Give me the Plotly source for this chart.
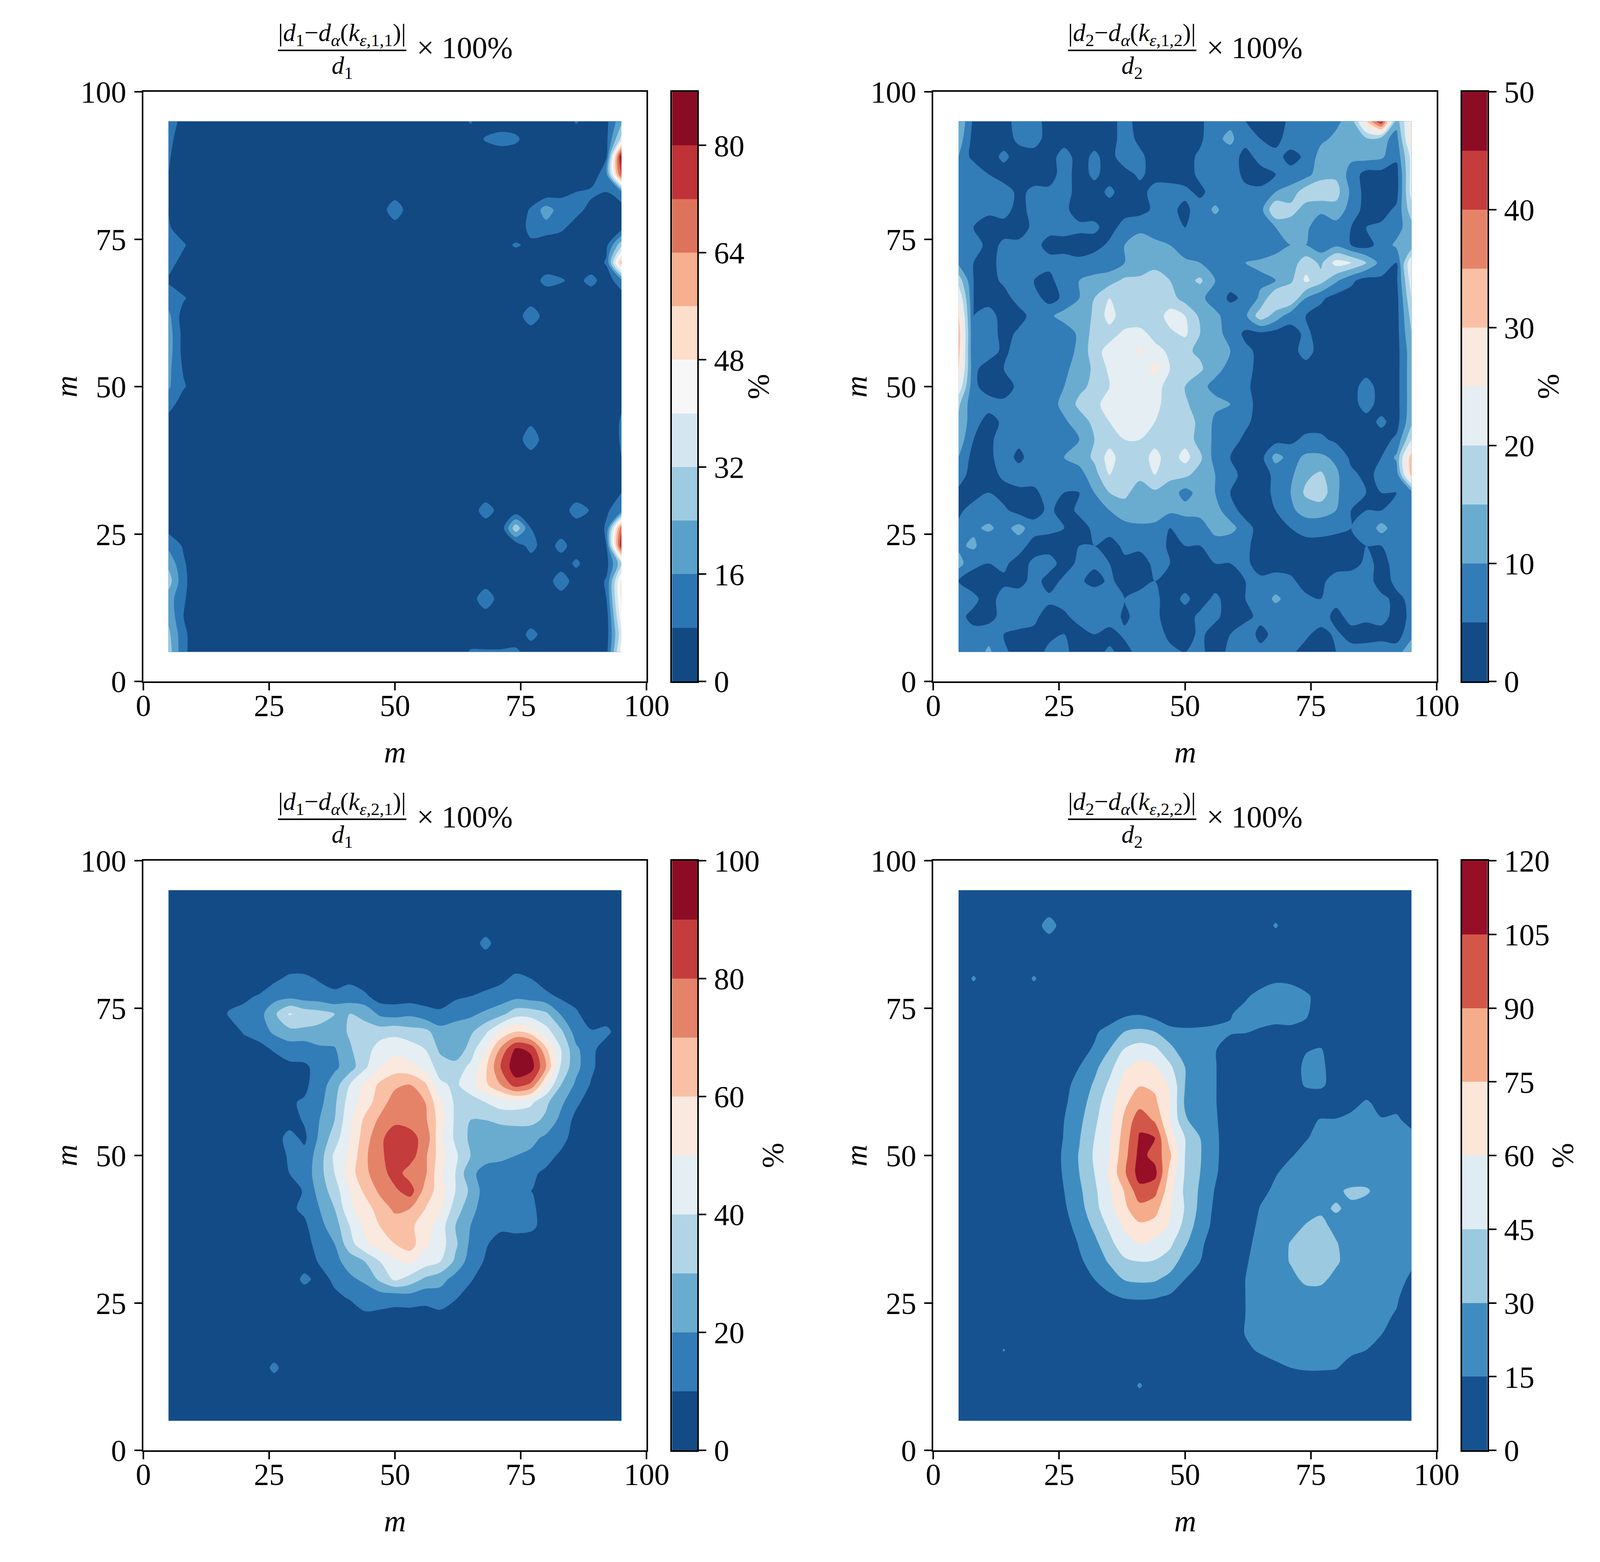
import plotly.graph_objects as go
from plotly.colors import sample_colorscale

X = [5, 8, 11, 14, 17, 20, 23, 26, 29, 32, 35, 38, 41, 44, 47, 50, 53, 56, 59, 62, 65, 68, 71, 74, 77, 80, 83, 86, 89, 92, 95]
Y = [95, 92, 89, 86, 83, 80, 77, 74, 71, 68, 65, 62, 59, 56, 53, 50, 47, 44, 41, 38, 35, 32, 29, 26, 23, 20, 17, 14, 11, 8, 5]

Z11 = [
[14,4,2,2,2,2,2,2,2,2,2,2,2,2,2,2,2,2,2,2,9,2,2,2,2,2,2,9,4,6,22],
[10,4,2,2,2,2,2,2,2,2,2,2,2,2,2,2,2,2,2,2,2,9,12,10,2,2,2,2,2,6,35],
[9,2,2,2,2,2,2,2,2,2,2,2,2,2,2,2,2,2,2,2,2,2,2,2,2,2,2,2,2,7,85],
[8,2,2,2,2,2,2,2,2,2,2,2,2,2,2,2,2,2,2,2,2,2,2,2,2,2,2,2,2,14,75],
[7,2,2,2,2,2,2,2,2,2,2,2,2,2,2,2,2,2,2,2,2,2,2,2,2,2,6,8,10,8,14],
[8,3,2,2,2,2,2,2,2,2,2,2,2,2,2,15,2,2,2,2,2,2,2,2,9,20,12,11,5,2,4],
[9,3,2,2,2,2,2,2,2,2,2,2,2,2,2,3,2,2,2,2,2,2,2,2,11,13,10,4,2,2,4],
[12,9,2,2,2,2,2,2,2,2,2,2,2,2,2,2,2,2,2,2,2,2,5,9,6,2,2,2,2,6,30],
[11,5,2,2,2,2,2,2,2,2,2,2,2,2,2,2,2,2,2,2,2,2,2,2,2,2,2,2,2,9,60],
[7,2,2,2,2,2,2,2,2,2,2,2,2,2,2,2,2,2,2,2,2,2,2,2,3,11,9,5,11,3,14],
[12,9,3,2,2,2,2,2,2,2,2,2,2,2,2,2,2,2,2,2,2,2,2,2,2,2,2,2,2,2,3],
[18,4,2,2,2,2,2,2,2,2,2,2,2,2,2,2,2,2,2,2,2,2,2,2,15,3,2,2,2,2,4],
[20,5,2,2,2,2,2,2,2,2,2,2,2,2,2,2,2,2,2,2,2,2,2,2,2,2,2,2,2,2,4],
[20,5,2,2,2,2,2,2,2,2,2,2,2,2,2,2,2,2,2,2,2,2,2,2,2,2,2,2,2,2,5],
[18,7,2,2,2,2,2,2,2,2,2,2,2,2,2,2,2,2,2,2,2,2,2,2,2,2,2,2,2,2,5],
[17,9,2,2,2,2,2,2,2,2,2,2,2,2,2,2,2,2,2,2,2,2,2,2,2,2,2,2,2,2,6],
[12,3,2,2,2,2,2,2,2,2,2,2,2,2,2,2,2,2,2,2,2,2,2,2,2,2,2,2,2,2,7],
[4,2,2,2,2,2,2,2,2,2,2,2,2,2,2,2,2,2,2,2,2,2,2,2,6,2,2,2,2,2,9],
[2,2,2,2,2,2,2,2,2,2,2,2,2,2,2,2,2,2,2,2,2,2,2,2,15,2,2,2,2,2,9],
[2,2,2,2,2,2,2,2,2,2,2,2,2,2,2,2,2,2,2,2,2,2,2,2,3,2,2,2,2,2,8],
[2,2,2,2,2,2,2,2,2,2,2,2,2,2,2,2,2,2,2,2,2,2,2,2,2,2,2,2,2,2,8],
[2,2,2,2,2,2,2,2,2,2,2,2,2,2,2,2,2,2,2,2,2,2,2,2,2,2,2,2,2,4,8],
[2,2,2,2,2,2,2,2,2,2,2,2,2,2,2,2,2,2,2,2,2,13,4,2,2,2,2,13,7,7,12],
[5,2,2,2,2,2,2,2,2,2,2,2,2,2,2,2,2,2,2,2,2,2,2,30,8,2,2,2,2,9,70],
[14,7,2,2,2,2,2,2,2,2,2,2,2,2,2,2,2,2,2,2,2,2,2,2,12,2,12,2,2,8,80],
[22,9,2,2,2,2,2,2,2,2,2,2,2,2,2,2,2,2,2,2,2,2,2,2,2,2,2,10,2,5,30],
[28,10,2,2,2,2,2,2,2,2,2,2,2,2,2,2,2,2,2,2,2,2,2,2,2,2,15,2,2,9,50],
[20,9,2,2,2,2,2,2,2,2,2,2,2,2,2,2,2,2,2,2,2,16,2,2,2,2,2,2,2,8,50],
[22,8,2,2,2,2,2,2,2,2,2,2,2,2,2,2,2,2,2,2,2,2,2,2,2,2,2,2,2,4,45],
[26,10,2,2,2,2,2,2,2,2,2,2,2,2,2,2,2,2,2,2,2,2,2,2,11,4,2,2,2,4,38],
[28,10,2,2,2,2,2,2,2,2,2,2,2,2,2,2,2,2,2,2,9,9,9,10,3,2,2,2,2,5,45],
]

Z12 = [
[15,4,4,4,6,6,4,3,3,3,3,7,3,3,3,3,4,8,9,5,4,3,6,9,7,9,12,30,45,12,28],
[13,3,3,3,6,7,3,3,3,3,3,7,4,3,3,3,4,9,11,7,5,3,8,6,9,11,13,14,12,8,28],
[10,3,3,6,3,3,3,7,3,6,3,8,6,3,3,3,6,10,8,3,7,7,3,6,12,12,11,12,11,6,22],
[9,10,5,3,3,3,3,7,3,6,3,3,6,3,3,3,6,9,7,4,3,5,7,8,13,14,8,3,3,3,22],
[7,10,7,7,4,6,6,7,3,3,6,3,3,7,7,6,4,7,7,6,6,10,12,18,19,17,9,3,3,3,22],
[7,7,6,7,3,7,6,6,3,3,3,3,3,6,6,4,7,11,7,5,8,20,17,13,11,13,8,3,3,6,18],
[7,5,3,3,3,6,6,7,6,6,3,7,9,8,6,5,7,7,7,8,9,10,12,11,7,8,5,5,6,8,13],
[6,8,3,6,6,6,4,3,3,3,6,10,12,11,10,7,6,6,7,6,6,8,10,10,7,9,5,3,7,11,12],
[9,5,3,7,6,6,6,7,6,8,7,10,12,13,11,11,10,10,9,10,11,12,12,18,14,22,20,15,8,5,25],
[18,5,3,6,7,5,4,7,10,11,13,16,16,18,15,13,16,10,7,8,9,10,14,21,17,11,6,3,4,4,23],
[25,5,3,3,7,7,3,6,10,15,20,17,18,19,17,13,11,8,4,6,11,20,20,10,6,3,3,3,5,3,20],
[30,5,7,3,3,7,9,12,11,16,22,17,16,17,22,20,14,11,8,9,18,13,7,5,3,3,3,3,3,3,17],
[33,5,8,3,6,6,6,7,11,17,18,21,22,18,19,21,15,12,8,4,4,3,3,6,3,3,3,3,3,3,15],
[32,5,7,4,7,9,6,8,11,18,22,20,26,22,19,16,14,12,10,6,4,3,3,7,3,3,3,3,3,3,13],
[30,6,3,5,8,7,5,9,12,16,21,22,21,27,20,16,16,11,9,7,3,3,3,3,3,3,3,3,3,3,13],
[24,6,3,3,6,7,8,10,14,16,20,24,23,21,19,15,11,9,6,6,3,3,3,3,3,3,3,7,3,3,13],
[16,6,7,6,8,6,7,12,16,18,23,24,23,22,17,16,12,11,10,6,4,3,3,3,3,3,3,7,3,3,13],
[14,7,3,6,8,5,6,9,13,16,20,23,24,20,18,17,14,9,6,6,3,3,3,3,3,3,3,3,6,3,14],
[13,5,4,7,6,7,5,7,10,15,18,20,20,18,20,18,13,9,7,4,3,3,4,6,6,4,3,3,3,6,20],
[10,3,4,7,4,7,8,10,12,16,22,17,17,22,17,22,16,8,5,3,3,12,8,11,11,9,4,3,5,11,33],
[7,3,3,6,7,7,8,9,8,13,20,17,16,20,16,16,13,10,6,4,3,6,9,14,16,11,6,4,6,7,32],
[4,3,5,3,4,4,7,5,5,10,15,16,13,14,13,8,12,10,5,3,3,6,10,16,18,11,6,5,5,5,8],
[4,7,7,6,3,3,6,3,6,6,10,13,13,12,11,12,13,12,7,3,3,5,9,12,12,10,5,5,5,6,7],
[6,9,11,8,12,7,6,5,3,6,7,8,9,9,5,6,6,13,12,7,3,3,5,7,7,6,5,6,12,7,7],
[9,11,6,6,7,3,3,3,5,5,3,6,6,8,4,5,5,6,6,6,3,3,3,3,3,3,3,5,5,7,7],
[12,6,5,6,3,6,7,3,6,6,5,4,3,6,5,4,4,5,5,6,3,3,3,3,3,3,3,6,4,6,7],
[5,3,3,4,3,7,3,6,6,3,6,3,3,5,3,3,3,3,3,5,6,7,6,3,4,7,8,7,3,6,7],
[6,6,3,7,8,6,6,7,8,9,7,5,7,6,3,6,3,6,3,5,7,11,8,6,5,7,8,7,6,4,6],
[6,4,3,7,10,6,3,4,7,7,8,4,7,6,3,3,6,6,3,4,6,7,6,6,8,3,7,6,7,3,6],
[5,6,8,5,3,4,4,5,3,5,3,6,6,7,4,3,6,3,5,7,4,6,6,6,3,6,3,3,3,3,8],
[6,7,11,6,3,3,6,6,3,3,6,3,7,10,6,5,6,3,6,5,6,5,6,3,3,5,7,7,8,7,15],
]

Z21 = [
[3,3,3,3,3,3,3,3,3,3,3,3,3,3,3,3,3,3,3,3,3,3,3,3,3,3,3,3,3,3,3],
[3,3,3,3,3,3,3,3,3,3,3,3,3,3,3,3,3,3,3,3,3,3,3,3,3,3,3,3,3,3,3],
[3,3,3,3,3,3,3,3,3,3,3,3,3,3,3,3,3,3,3,3,3,3,3,3,3,3,3,3,3,3,3],
[3,3,3,3,3,3,3,3,3,3,3,3,3,3,3,3,3,3,3,3,3,14,3,3,3,3,3,3,3,3,3],
[3,3,3,3,3,3,3,4,4,4,4,4,4,4,3,3,3,3,3,3,3,3,4,5,5,4,3,3,3,3,3],
[3,3,3,3,3,3,3,8,12,12,9,7,8,4,3,3,3,3,3,3,3,6,8,12,10,4,3,3,3,3,3],
[3,3,3,3,6,8,11,16,17,15,14,12,14,12,5,5,5,5,5,8,10,12,14,17,15,13,8,5,3,3,3],
[3,3,3,3,11,13,16,28,41,36,34,30,30,28,18,16,18,14,12,17,18,22,27,36,36,32,19,12,3,3,3],
[3,3,3,3,5,11,14,22,27,28,27,26,31,33,35,37,34,33,24,24,28,38,52,60,55,44,32,15,11,13,3],
[3,3,3,3,3,5,7,11,14,13,18,19,29,35,45,47,45,40,28,21,35,50,72,92,88,62,40,22,13,4,3],
[3,3,3,3,3,3,4,5,8,9,12,18,25,38,50,55,53,47,35,35,42,58,80,97,95,70,38,23,12,4,3],
[3,3,3,3,3,3,4,5,6,8,15,25,40,52,62,68,70,62,42,38,46,58,70,85,78,50,30,18,9,3,3],
[3,3,3,3,3,3,5,8,9,11,17,28,45,55,65,75,76,70,52,38,35,40,45,45,42,32,22,12,5,3,3],
[3,3,3,3,3,3,4,5,6,11,20,30,48,62,72,78,78,72,55,38,30,30,32,33,33,28,17,7,3,3,3],
[3,3,3,3,3,3,3,6,13,8,22,35,50,65,78,85,82,78,52,38,28,24,24,24,23,18,14,5,3,3,3],
[3,3,3,3,3,3,3,6,11,13,25,42,52,68,78,85,85,72,55,42,30,23,22,20,18,14,8,3,3,3,3],
[3,3,3,3,3,3,3,5,10,14,26,40,55,68,75,85,75,72,52,40,22,17,16,13,12,8,4,3,3,3,3],
[3,3,3,3,3,3,3,3,5,11,24,35,50,62,72,78,85,66,55,40,28,15,12,10,10,5,3,3,3,3,3],
[3,3,3,3,3,3,3,3,8,12,20,30,48,55,65,72,70,60,52,35,24,14,11,12,12,6,3,3,3,3,3],
[3,3,3,3,3,3,3,3,4,8,17,25,40,52,60,65,62,55,45,30,20,12,12,14,13,5,3,3,3,3,3],
[3,3,3,3,3,3,3,3,3,6,14,20,36,48,55,60,65,52,45,32,18,11,6,4,3,3,3,3,3,3,3],
[3,3,3,3,3,3,3,3,3,4,11,17,24,30,40,48,52,45,40,28,15,9,4,3,3,3,3,3,3,3,3],
[3,3,3,3,3,3,3,3,3,13,6,12,18,22,32,42,36,28,24,16,11,5,3,3,3,3,3,3,3,3,3],
[3,3,3,3,3,3,3,3,3,3,3,8,11,14,15,14,16,13,15,11,6,3,3,3,3,3,3,3,3,3,3],
[3,3,3,3,3,3,3,3,3,3,3,3,5,9,8,7,6,7,8,5,3,3,3,3,3,3,3,3,3,3,3],
[3,3,3,3,3,3,3,3,3,3,3,3,3,3,3,3,3,3,3,3,3,3,3,3,3,3,3,3,3,3,3],
[3,3,3,3,3,3,3,3,3,3,3,3,3,3,3,3,3,3,3,3,3,3,3,3,3,3,3,3,3,3,3],
[3,3,3,3,3,3,3,13,3,3,3,3,3,3,3,3,3,3,3,3,3,3,3,3,3,3,3,3,3,3,3],
[3,3,3,3,3,3,3,3,3,3,3,3,3,3,3,3,3,3,3,3,3,3,3,3,3,3,3,3,3,3,3],
[3,3,3,3,3,3,3,3,3,3,3,3,3,3,3,3,3,3,3,3,3,3,3,3,3,3,3,3,3,3,3],
[3,3,3,3,3,3,3,3,3,3,3,3,3,3,3,3,3,3,3,3,3,3,3,3,3,3,3,3,3,3,3],
]

Z22 = [
[4,4,4,4,4,4,4,4,4,4,4,4,4,4,4,4,4,4,4,4,4,4,4,4,4,4,4,4,4,4,4],
[4,4,4,4,4,4,4,4,4,4,4,4,4,4,4,4,4,4,4,4,4,4,4,4,4,4,4,4,4,4,4],
[4,4,4,4,4,4,25,4,4,4,4,4,4,4,4,4,4,4,4,4,4,17,4,4,4,4,4,4,4,4,4],
[4,4,4,4,4,4,4,4,4,4,4,4,4,4,4,4,4,4,4,4,4,4,4,4,4,4,4,4,4,4,4],
[4,4,4,4,4,4,4,4,4,4,4,4,4,4,4,4,4,4,4,4,4,4,4,4,4,4,4,4,4,4,4],
[4,17,4,4,4,17,4,4,4,4,4,4,4,4,4,4,4,4,4,4,8,13,12,6,4,4,4,4,4,4,4],
[4,4,4,4,4,4,4,4,4,4,4,4,4,4,4,4,4,4,4,13,20,21,21,18,8,4,4,4,4,4,4],
[4,4,4,4,4,4,4,4,4,4,4,12,14,9,4,4,6,10,14,20,22,22,20,17,6,4,4,4,4,4,4],
[4,4,4,4,4,4,4,4,4,12,22,30,33,30,20,18,18,18,17,16,13,10,12,10,4,4,4,4,4,4,4],
[4,4,4,4,4,4,4,4,9,17,30,46,52,48,35,20,18,16,6,4,4,4,8,14,16,6,4,4,4,4,4],
[4,4,4,4,4,4,4,6,15,26,40,58,65,62,48,30,20,16,5,4,4,4,8,18,18,8,4,4,4,4,4],
[4,4,4,4,4,4,4,11,20,32,48,66,74,72,58,30,19,16,5,4,4,4,6,17,18,8,4,4,4,4,4],
[4,4,4,4,4,4,4,13,22,38,54,72,84,78,60,28,18,16,5,4,4,4,4,4,4,5,9,17,10,13,10],
[4,4,4,4,4,4,4,15,26,42,56,78,100,88,60,32,22,17,5,4,4,5,8,11,16,16,20,17,16,16,13],
[4,4,4,4,4,4,4,16,29,45,58,82,107,105,68,45,30,18,6,4,4,5,12,14,19,20,20,20,20,20,17],
[4,4,4,4,4,4,4,18,31,47,60,85,110,100,78,45,31,18,6,4,5,8,14,19,20,20,20,20,20,20,20],
[4,4,4,4,4,4,4,17,30,45,62,88,112,110,70,44,30,17,5,4,6,14,20,21,21,22,22,22,22,21,20],
[4,4,4,4,4,4,4,15,27,42,58,76,100,95,65,42,28,14,4,5,11,18,21,24,27,28,32,32,24,21,20],
[4,4,4,4,4,4,4,13,24,40,55,72,85,80,62,44,26,12,4,5,16,20,24,24,28,31,28,24,22,21,20],
[4,4,4,4,4,4,4,10,20,33,48,62,72,70,58,40,22,11,4,9,18,23,25,31,33,27,24,22,22,21,20],
[4,4,4,4,4,4,4,6,16,26,40,55,60,55,48,32,18,7,4,12,19,22,31,38,38,31,24,22,22,21,19],
[4,4,4,4,4,4,4,4,13,20,32,42,45,44,38,23,15,5,4,14,19,23,31,38,38,32,24,22,22,19,16],
[4,4,4,4,4,4,4,4,7,15,21,31,33,32,25,15,7,4,4,15,19,22,26,33,33,26,23,22,20,17,14],
[4,4,4,4,4,4,4,4,4,9,13,16,17,16,13,8,4,4,4,15,19,21,23,24,24,23,22,21,19,17,7],
[4,4,4,4,4,4,4,4,4,4,4,4,4,4,4,4,4,4,4,15,19,21,22,22,22,21,20,19,18,14,9],
[4,4,4,4,4,4,4,4,4,4,4,4,4,4,4,4,4,4,4,16,20,21,21,21,21,20,20,18,16,8,5],
[4,4,4,16,4,4,4,4,4,4,4,4,4,4,4,4,4,4,4,12,17,20,20,20,20,19,18,15,9,4,4],
[4,4,4,4,4,4,4,4,4,4,4,4,4,4,4,4,4,4,4,4,8,12,15,17,17,16,9,4,4,4,4],
[4,4,4,4,4,4,4,4,4,4,4,4,17,4,4,4,4,4,4,4,4,4,4,4,4,4,4,4,4,4,4],
[4,4,4,4,4,4,4,4,4,4,4,4,4,4,4,4,4,4,4,4,4,4,4,4,4,4,4,4,4,4,4],
[4,4,4,4,4,4,4,4,4,4,4,4,4,4,4,4,4,4,4,4,4,4,4,4,4,4,4,4,4,4,4],
]

LEVEL_TOP = [88, 50, 100, 120]
LEVEL_STEP = [8, 5, 10, 15]
CB_TICKS = [[0, 16, 32, 48, 64, 80], [0, 10, 20, 30, 40, 50],
            [0, 20, 40, 60, 80, 100], [0, 15, 30, 45, 60, 75, 90, 105, 120]]
AXIS_TICKS = [0, 25, 50, 75, 100]
NUMERATORS = [("1", "1,1"), ("2", "1,2"), ("1", "2,1"), ("2", "2,2")]

# The browser window is 4096 wide, so the page is laid out at that width while
# positions are kept as fractions of the reference's 4800x4000 frame.
PAGE_W, PAGE_H = 4096, 4000
W, H = 4800, 4000
FONT = "Liberation Serif"
TICK = 78
DX, DY = 2370, 1969
AX_L, AX_T, AX_S = 430, 235, 1510
CB_L, CB_W = 2016, 76
PCT_X = [2274, 4643, 2317, 4686]


def stepped(top, step):
    n = top // step
    cols = sample_colorscale("RdBu_r", [(j + 0.5) / n for j in range(n)])
    stops = []
    for j, c in enumerate(cols):
        stops.append([j / n, c])
        stops.append([(j + 1) / n, c])
    return stops


fig = go.Figure()
layout = dict(
    width=PAGE_W, height=PAGE_H, paper_bgcolor="white", plot_bgcolor="white", showlegend=False,
    margin=dict(l=0, r=0, t=0, b=0, autoexpand=False),
    font=dict(family=FONT, size=TICK, color="black"),
)
annotations, shapes = [], []
base_axis = dict(
    ticks="outside", ticklen=19, tickwidth=4, tickcolor="black",
    showline=True, linewidth=4, linecolor="black", mirror=True,
    showgrid=False, zeroline=False, tickmode="array",
    tickfont=dict(family=FONT, size=TICK, color="black"),
)


def note(text, px, py, size=TICK, angle=0):
    annotations.append(dict(text=text, x=px / W, y=1 - py / H, xref="paper", yref="paper",
                            xanchor="center", yanchor="middle", showarrow=False, textangle=angle,
                            font=dict(family=FONT, size=size, color="black")))


for i, Z in enumerate([Z11, Z12, Z21, Z22]):
    assert all(len(r) == 31 for r in Z) and len(Z) == 31
    col, row = i % 2, i // 2
    ox, oy = col * DX, row * DY
    top, step = LEVEL_TOP[i], LEVEL_STEP[i]
    scale = stepped(top, step)
    main = 2 * i + 1
    bar = 2 * i + 2
    sm = "" if main == 1 else str(main)
    sb = str(bar)
    ydom = [1 - (AX_T + AX_S + oy) / H, 1 - (AX_T + oy) / H]

    fig.add_trace(go.Contour(
        x=X, y=Y, z=Z, xaxis="x" + sm, yaxis="y" + sm,
        autocontour=False,
        contours=dict(start=0, end=top, size=step, coloring="fill", showlines=False),
        line=dict(width=0, smoothing=0.9),
        colorscale=scale, showscale=False, hoverinfo="skip",
    ))
    layout["xaxis" + sm] = dict(base_axis, range=[0, 100], tickvals=AXIS_TICKS, anchor="y" + sm,
                                ticklabelstandoff=-29,
                                domain=[(AX_L + ox) / W, (AX_L + AX_S + ox) / W])
    layout["yaxis" + sm] = dict(base_axis, range=[0, 100], tickvals=AXIS_TICKS, anchor="x" + sm,
                                ticklabelstandoff=5, domain=ydom)

    edges = list(range(0, top + step, step))
    mids = [[e + step / 2] for e in edges[:-1]]
    fig.add_trace(go.Heatmap(
        x=[0, 1], y=edges, z=mids, zmin=0, zmax=top, xaxis="x" + sb, yaxis="y" + sb,
        colorscale=scale, showscale=False, hoverinfo="skip",
    ))
    layout["xaxis" + sb] = dict(range=[0, 1], anchor="y" + sb, showticklabels=False, ticks="",
                                showline=True, linewidth=4, linecolor="black", mirror=True,
                                showgrid=False, zeroline=False,
                                domain=[(CB_L + ox) / W, (CB_L + CB_W + ox) / W])
    layout["yaxis" + sb] = dict(base_axis, range=[0, top], tickvals=CB_TICKS[i], anchor="x" + sb,
                                side="right", ticklabelstandoff=4, domain=ydom)

    a, b = NUMERATORS[i]
    num = f"|<i>d</i><sub>{a}</sub>−<i>d</i><sub><i>α</i></sub>(<i>k</i><sub><i>ε</i>,{b}</sub>)|"
    den = f"<i>d</i><sub>{a}</sub>"
    note(num, 1026 + ox, 88 + oy, 64)
    note(den, 1026 + ox, 172 + oy, 64)
    note("× 100%", 1394 + ox, 122 + oy, 78)
    shapes.append(dict(type="line", xref="paper", yref="paper",
                       x0=(834 + ox) / W, x1=(1219 + ox) / W,
                       y0=1 - (129 + oy) / H, y1=1 - (129 + oy) / H,
                       line=dict(color="black", width=4)))
    note("%", PCT_X[i], AX_T + oy + AX_S / 2, TICK, -90)
    note("<i>m</i>", AX_L + AX_S / 2 + ox, 1926 + oy, TICK)
    note("<i>m</i>", 199 + ox, AX_T + oy + AX_S / 2, TICK, -90)

layout["annotations"] = annotations
layout["shapes"] = shapes
fig.update_layout(**layout)
fig.write_html("out.html", config={"displayModeBar": False},
               post_script="document.body.style.margin='0';")
